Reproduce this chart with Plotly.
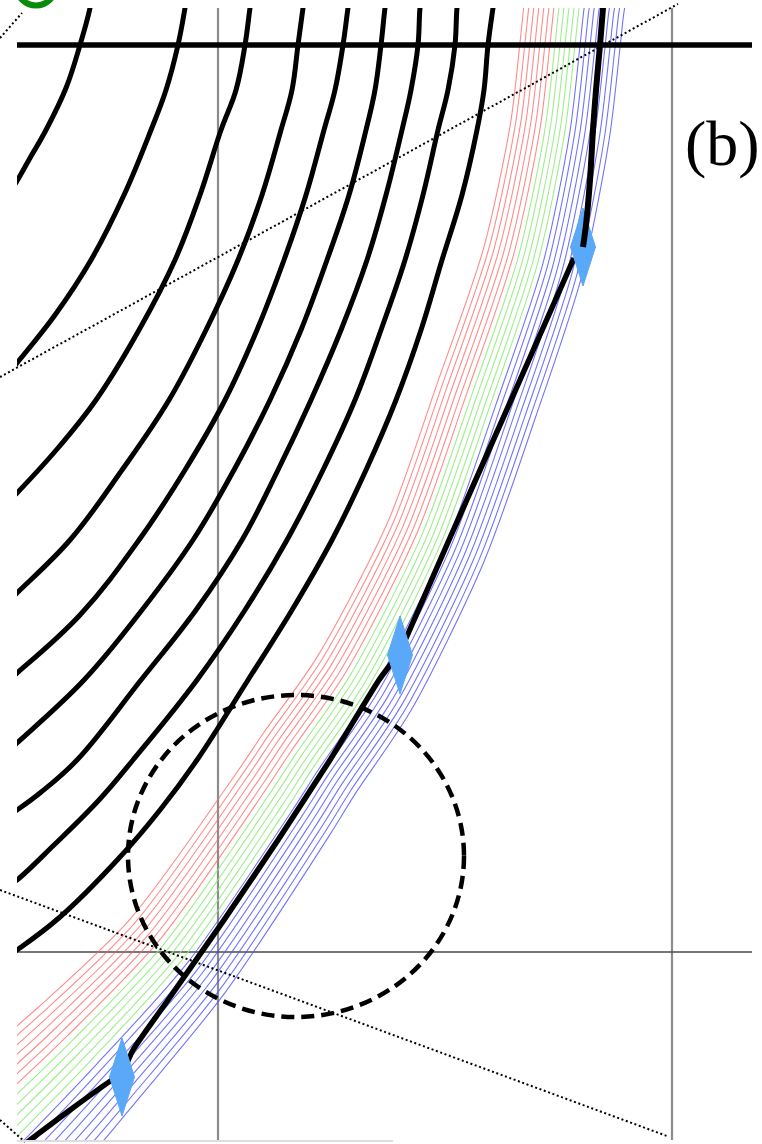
import numpy as np
import plotly.graph_objects as go

W, H = 762, 1144
X0, X1 = 17, 752      # plot window (pixel-like units)
Y0, Y1 = 8, 1140

# ---- black arcs, one list per arc ----
arc1_x = [92, 90, 80, 66, 46, 30, 17, 5]
arc1_y = [-5, 8, 45, 88, 130, 158, 181, 200]
arc2_x = [187, 185, 178, 166, 151, 124, 91, 55, 17, 5]
arc2_y = [-5, 8, 45, 90, 130, 195, 260, 315, 363, 378]
arc3_x = [252, 250, 245, 236, 221, 200, 175, 139, 96, 58, 17, 5]
arc3_y = [-5, 8, 45, 90, 130, 195, 260, 330, 400, 448, 493, 505]
arc4_x = [305, 303, 298, 292, 281, 262, 238, 206, 169, 122, 70, 17, 5]
arc4_y = [-5, 8, 45, 90, 130, 195, 260, 330, 400, 470, 540, 593, 605]
arc5_x = [350, 348, 343, 335, 324, 306, 284, 257, 225, 185, 139, 80, 17, 5]
arc5_y = [-5, 8, 45, 90, 130, 195, 260, 330, 400, 470, 540, 615, 673, 683]
arc6_x = [387, 385, 381, 375, 366, 349, 327, 301, 270, 234, 193, 142, 84, 17, 5]
arc6_y = [-5, 8, 45, 90, 130, 195, 260, 330, 400, 470, 540, 610, 680, 743, 754]
arc7_x = [422, 420, 418, 411, 402, 386, 367, 341, 311, 278, 242, 196, 141, 77, 40, 17, 5]
arc7_y = [-5, 8, 45, 90, 130, 195, 260, 330, 400, 470, 540, 610, 680, 760, 793, 810, 818]
arc8_x = [459, 457, 455, 448, 438, 423, 405, 381, 355, 323, 287, 245, 197, 133, 99, 54, 17, 5]
arc8_y = [-5, 8, 45, 90, 130, 195, 260, 330, 400, 470, 540, 610, 680, 760, 800, 845, 880, 888]
arc9_x = [495, 493, 488, 484, 477, 462, 442, 421, 396, 366, 332, 292, 248, 197, 160, 120, 60, 17, 5]
arc9_y = [-5, 8, 45, 90, 130, 195, 260, 330, 400, 470, 540, 610, 680, 760, 810, 857, 917, 950, 958]
arcs = [(arc1_x, arc1_y), (arc2_x, arc2_y), (arc3_x, arc3_y), (arc4_x, arc4_y),
        (arc5_x, arc5_y), (arc6_x, arc6_y), (arc7_x, arc7_y), (arc8_x, arc8_y),
        (arc9_x, arc9_y)]

# ---- main thick curve (pieces, kinks at the markers) ----
main_upper_x = [604, 603, 600, 596, 593, 590, 586, 583]
main_upper_y = [-5, 8, 45, 90, 130, 180, 225, 247]
main_mid_x = [574, 520, 449, 400]
main_mid_y = [258, 380, 540, 652]
main_low_x = [400, 379, 330, 278, 224, 168, 133, 122]
main_low_y = [652, 680, 760, 840, 920, 1000, 1050, 1075]
main_tail_x = [122, 112, 70, 30, 15]
main_tail_y = [1075, 1080, 1110, 1140, 1152]

# ---- coloured band: centre line, local line spacing, line families ----
band_cx = [572, 569, 565, 555, 528, 481, 431, 360, 305, 279, 173, 82, 22, -40]
band_cy = [-10, 8, 45, 130, 260, 400, 540, 680, 760, 800, 952, 1050, 1110, 1170]
band_step = [5.0, 5.0, 5.0, 5.0, 5.1, 5.2, 5.2, 5.4, 5.5, 5.6, 6.0, 6.8, 7.5, 8.2]
band_groups = [("rgba(255,100,100,0.75)", 7), ("rgba(140,235,120,0.85)", 5), ("rgba(80,80,250,0.8)", 9)]
band_center_index = 9

# ---- markers ----
diamond_x = [583, 400, 122]
diamond_y = [247, 655, 1077]
diamond_hw, diamond_hh = 12.5, 39

# ---- reference lines ----
vline_x = [218, 672]
thick_hline_y = 45
thin_hline_y = 952

dotted_x0 = [0, 0, 0, 0]
dotted_y0 = [377, 38, 890, 1120]
dotted_x1 = [678, 22, 667, 25]
dotted_y1 = [4, 13, 1136, 1142]

circle_cx, circle_cy, circle_rx, circle_ry = 296, 856, 168, 161
green_cx, green_cy, green_r = 36, -14, 19.5

fig = go.Figure()

def add_line(x, y, color, width, dash=None, axes=1, shape="linear", smoothing=0.8):
    fig.add_trace(go.Scatter(
        x=x, y=y, mode="lines",
        line=dict(color=color, width=width, dash=dash, shape=shape, smoothing=smoothing),
        hoverinfo="skip", showlegend=False,
        xaxis="x" if axes == 1 else "x2", yaxis="y" if axes == 1 else "y2"))

# grey vertical lines
for vx in vline_x:
    add_line([vx, vx], [Y0, Y1], "#8c8c8c", 2.2)
# thin horizontal
add_line([X0, X1], [thin_hline_y, thin_hline_y], "#4a4a4a", 1.5)

# band lines (normal offsets from centre line)
cx = np.array(band_cx, float)
cy = np.array(band_cy, float)
st = np.array(band_step, float)
tx = np.gradient(cx)
ty = np.gradient(cy)
nrm = np.hypot(tx, ty)
nx, ny = ty / nrm, -tx / nrm
k = 0
for color, count in band_groups:
    for _ in range(count):
        off = (k - band_center_index) * st
        add_line(list(cx + nx * off), list(cy + ny * off), color, 1.1, shape="spline")
        k += 1

# black arcs
for ax_, ay_ in arcs:
    add_line(ax_, ay_, "black", 5, shape="spline", smoothing=1.1)

# thick horizontal
add_line([X0, X1], [thick_hline_y, thick_hline_y], "black", 5.5)

# main curve
add_line(main_mid_x, main_mid_y, "black", 5.5, shape="spline", smoothing=0.5)
add_line(main_low_x, main_low_y, "black", 5.5, shape="spline", smoothing=0.5)
add_line(main_tail_x, main_tail_y, "black", 5.5, shape="spline", smoothing=0.5)

# diamonds
for dx, dy in zip(diamond_x, diamond_y):
    fig.add_trace(go.Scatter(
        x=[dx, dx + diamond_hw, dx, dx - diamond_hw, dx],
        y=[dy - diamond_hh, dy, dy + diamond_hh, dy, dy - diamond_hh],
        mode="lines", fill="toself", fillcolor="#5aa8f8",
        line=dict(color="#5aa8f8", width=1), hoverinfo="skip", showlegend=False))

add_line(main_upper_x, main_upper_y, "black", 6, shape="spline")

# overlay subplot (whole page)
for x0, y0, x1, y1 in zip(dotted_x0, dotted_y0, dotted_x1, dotted_y1):
    add_line([x0, x1], [y0, y1], "black", 2, dash="2px,2.6px", axes=2)
add_line([X0, 393], [1141, 1141], "#dddddd", 2, axes=2)

fig.add_shape(type="circle", xref="x2", yref="y2",
              x0=circle_cx - circle_rx, x1=circle_cx + circle_rx,
              y0=circle_cy - circle_ry, y1=circle_cy + circle_ry,
              line=dict(color="black", width=4.5, dash="13px,7px"))
fig.add_shape(type="circle", xref="x2", yref="y2",
              x0=green_cx - green_r, x1=green_cx + green_r,
              y0=green_cy - green_r, y1=green_cy + green_r,
              line=dict(color="#0a8a0a", width=6))

fig.add_annotation(x=722, y=143, xref="x2", yref="y2", text="(b)", showarrow=False,
                   font=dict(family="Liberation Serif", size=64, color="black"))

fig.update_layout(
    width=W, height=H, margin=dict(l=0, r=0, t=0, b=0),
    paper_bgcolor="white", plot_bgcolor="rgba(0,0,0,0)",
    xaxis=dict(domain=[X0 / W, X1 / W], range=[X0, X1], visible=False, fixedrange=True),
    yaxis=dict(domain=[1 - Y1 / H, 1 - Y0 / H], range=[Y1, Y0], visible=False, fixedrange=True),
    xaxis2=dict(domain=[0, 1], range=[0, W], visible=False, anchor="y2", fixedrange=True),
    yaxis2=dict(domain=[0, 1], range=[H, 0], visible=False, anchor="x2", fixedrange=True),
)

fig.write_html("out.html", config={"displayModeBar": False},
               post_script="document.body.style.margin='0';document.body.style.overflow='hidden';")
